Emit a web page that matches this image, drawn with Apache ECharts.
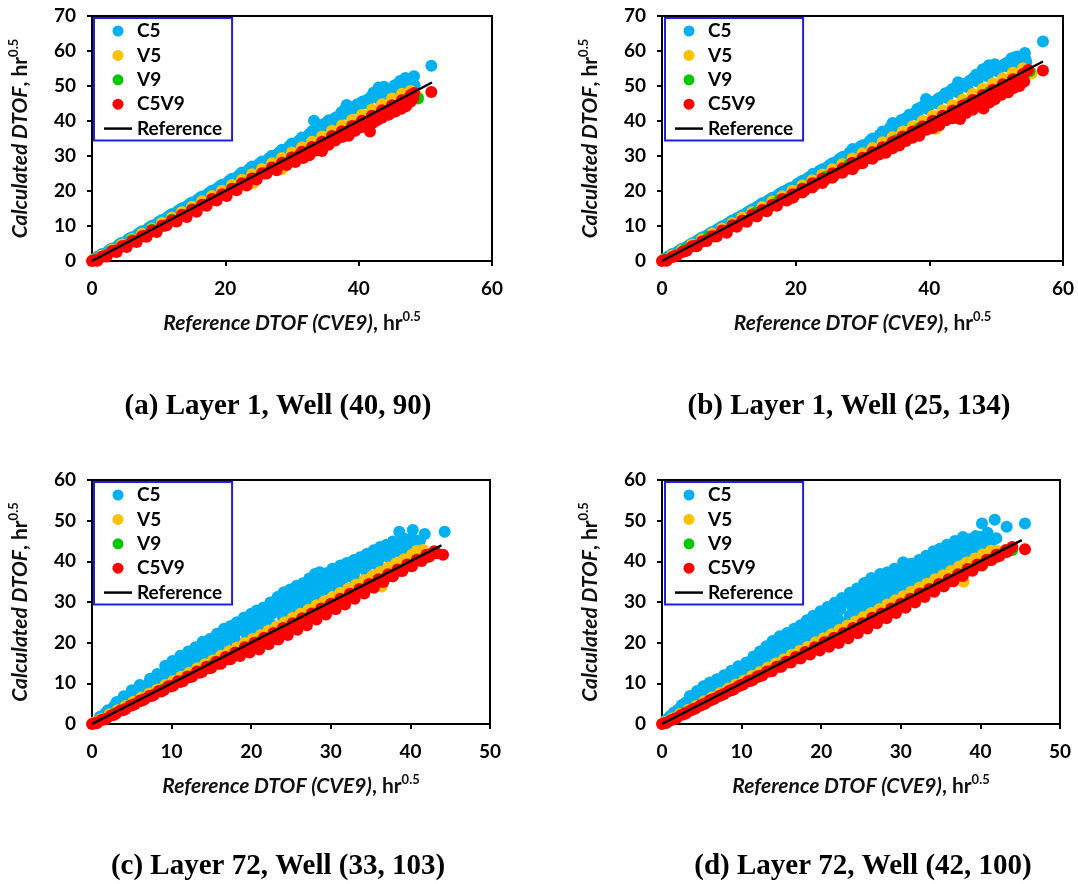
<!DOCTYPE html>
<html><head><meta charset="utf-8">
<script src="https://cdn.jsdelivr.net/npm/echarts@6/dist/echarts.min.js"></script>
<style>html,body{margin:0;padding:0;background:#fff}#c{width:1078px;height:884px}</style>
</head><body><div id="c"></div>
<script>
// ---------- DATA ----------
const seriesNames = ['C5', 'V5', 'V9', 'C5V9', 'Reference'];
const captions = ['(a) Layer 1, Well (40, 90)', '(b) Layer 1, Well (25, 134)', '(c) Layer 72, Well (33, 103)', '(d) Layer 72, Well (42, 100)'];
const xMax = [60, 60, 50, 50];
const xStep = [20, 20, 10, 10];
const yMax = [70, 70, 60, 60];
const yStep = [10, 10, 10, 10];

// (a) Layer 1, Well (40, 90)
const a_Ref = [[0,0],[51,51]];
const a_C5 = [[0.3,0.6],[1.5,2],[3,3.6],[4.5,5.2],[6,6.8],[7.5,8.5],[9,10.1],[10.5,11.7],[12,13.4],[13.5,15.1],[15,16.7],[16.5,18.4],[18,20.1],[19.5,21.8],[21,23.5],[22.5,25.3],[24,27],[25.5,28.4],[27,30.1],[28.5,31.8],[30,33.6],[31.5,35.3],[33,37.1],[33.3,40.1],[34.5,38.9],[35.5,40.2],[36.5,40.9],[37.4,42.5],[38.2,44.6],[39,43.6],[39.8,44.8],[40.6,45.6],[41.4,46.2],[42.2,48.1],[43,49.6],[43.8,49.8],[44.6,48.9],[45.4,50.2],[46.2,51.4],[47,52.3],[47.7,51.2],[48.3,52.8],[48.4,50.2],[50.9,55.8],
 [2.3,2.6],[3.8,4.2],[5.3,5.9],[6.8,7.5],[8.3,9.1],[9.8,10.8],[11.3,12.4],[12.8,14.1],[14.3,15.7],[15.8,17.4],[17.3,19],[18.8,20.7],[20.3,22.3],[21.8,24],[23.3,25.6],[24.8,27.2],[26.3,28.8],[27.8,30.5],[29.3,32.1],[30.8,33.7],[32.3,35.4],[33.8,37],[35.3,38.6],[36.8,40.2],[38.3,41.9],[39.8,43.4],[41.3,45],[42.8,46.6],[44.3,47.7],[45.8,49.2],[47.3,50.4],[48.2,49.5],
 [0.9,1.3],[2.6,3.1],[4.1,4.8],[5.6,6.4],[7.1,8],[8.6,9.6],[10.1,11.3],[11.6,12.9],[13.1,14.6],[14.6,16.2],[16.1,17.9],[17.6,19.5],[19.1,21.2],[20.6,22.9],[22.1,24.6],[23.6,26.3],[25.1,27.8],[26.6,29.4],[28.1,31.1],[29.6,32.8],[31.1,34.5],[32.6,36.3],[34.1,38],[35.1,39.4],[36.1,40.3],[37.1,41.5],[37.9,43.2],[39.3,44.1],[40.2,44.6],[41,45.6],[41.9,46.9],[42.7,47.8],[43.5,48.5],[44.2,48.4],[45,49.3],[45.9,50.4],[46.6,51.4],[47.3,51.8],[48,51.6]];
const a_V5 = [[0.3,0.4],[1.5,1.6],[3,3.2],[4.5,4.7],[6,6.3],[7.5,7.8],[9,9.3],[10.5,10.9],[12,12.4],[13.5,14],[15,15.5],[16.5,17.1],[18,18.6],[19.5,20.1],[21,21.7],[22.5,23.2],[24,24.8],[24.2,22.3],[25.5,26.3],[27,27.9],[28.5,29.4],[28.5,26.2],[30,31],[31.5,32.5],[33,34.1],[34.5,35.6],[36,37.2],[37.5,38.7],[39,40.3],[40.5,41.8],[42,43.3],[43.5,44.8],[45,46.4],[46.5,47.8],[47.8,48.6],[48.9,46.9]];
const a_V9 = [[0.5,0.4],[3,2.9],[6,5.9],[9,8.9],[12,11.8],[15,14.8],[18,17.7],[21,20.7],[24,23.6],[27,26.6],[30,29.6],[33,32.5],[36,35.5],[39,38.4],[42,41.4],[45,44.3],[48,47.3],[48.9,46.4]];
const a_C5V9 = [[0,0],[1.5,1.2],[3,2.7],[4.5,4.2],[6,5.6],[7.5,7.1],[9,8.7],[10.5,10.1],[12,11.6],[13.5,13.2],[15,14.6],[16.5,16.1],[18,17.7],[19.5,19.1],[21,20.6],[22.5,22.2],[24,23.6],[25.5,25.1],[27,26.7],[28.5,28.1],[30,29.6],[31.5,31.2],[33,32.6],[34.5,34.1],[36,35.7],[37.5,37.1],[39,38.6],[40.5,40.1],[42,41.5],[43.5,43.1],[45,44.5],[46.5,46],[47.8,47.4],[48.3,48],
 [0.8,0.1],[2.2,1.3],[3.7,2.6],[5.2,4],[6.7,5.4],[8.2,6.9],[9.7,8.3],[11.2,10.2],[12.7,11.3],[14.2,12.6],[15.7,14.1],[17.2,15.8],[18.7,17.3],[20.2,18.6],[21.7,20.2],[23.2,21.6],[24.7,23.3],[26.2,25],[27.7,25.9],[29.2,27.4],[30.5,28.3],[31.7,29.4],[32.6,30.2],[33.6,31.6],[34.5,31.4],[35.5,33.2],[36.5,34.4],[37.5,35.4],[38.5,35.8],[39.5,37.2],[40.5,38.3],[41.7,37],[42.2,39.6],[43.5,40.9],[44.5,41.8],[45.5,42.7],[46.4,43.5],[47.1,44.2],[47.8,45.6],[48.2,46.6],[50.9,48.3],
 [30,28.8],[32,30.5],[34,32.6],[36,34.7],[38,36.6],[40,38.6],[41.5,39.2],[43,41.5],[45,43.4],[47,45.4],
 [0.4,0.2],[1.9,1.4],[3.4,2.9],[4.9,4.3],[6.4,5.7],[7.9,7.2],[9.4,8.6],[10.9,10.1],[12.4,11.5],[13.9,13],[15.4,14.5],[16.9,16],[18.4,17.4],[19.9,18.9],[21.4,20.5],[22.9,21.9],[24.4,23.5],[25.9,25],[27.4,26.3],[28.9,27.7],[29.9,28.9],[31.1,30.2],[32.1,30.9],[33.1,31.9],[34.1,32.8],[35.1,33.6],[36.1,34.9],[37.1,35.8],[38.1,36.8],[39.1,37.6],[40.1,38.9],[41.1,38.6],[41.9,39.4],[42.8,40.3],[44,41.9],[45,42.6],[46,43.9],[46.9,44.6],[47.5,45.2]];

// (b) Layer 1, Well (25, 134)
const b_Ref = [[0,0],[57,57]];
const b_C5 = [[0.3,0.6],[1.5,2],[3,3.5],[4.5,5.1],[6,6.7],[7.5,8.3],[9,9.9],[10.5,11.6],[12,13.1],[13.5,14.8],[15,16.5],[16.5,18.1],[18,19.7],[19.6,21.1],[21,22.9],[22.6,24.9],[24,26.2],[25.5,27.9],[27,29.7],[28.5,32],[30,33.1],[31.5,35],[33,37],[34.5,39.4],[35.8,40.3],[37,41.8],[38.2,43.4],[39.5,46.3],[40.4,45.4],[41.4,46.5],[42.4,47.9],[43.4,49.1],[44.3,51.1],[45.2,50.4],[46.1,51.6],[47,53.2],[48,54.8],[48.9,55.9],[49.8,56.2],[50.6,55.3],[51.4,56.4],[52.3,57.9],[53.1,58.4],[53.8,57.4],[54.3,59.4],[54.5,56.8],[57,62.7],
 [2.2,2.5],[3.7,4.1],[5.2,5.7],[6.7,7.3],[8.2,8.9],[9.7,10.5],[11.2,12.2],[12.7,13.8],[14.2,15.4],[15.7,17],[17.2,18.6],[18.7,20.3],[20.2,21.9],[21.7,23.5],[23.2,25.1],[24.7,26.8],[26.2,28.5],[27.7,30.1],[29.2,31.8],[30.7,33.4],[32.2,35.1],[33.7,36.8],[35.2,38.4],[36.7,40.1],[38.2,41.7],[39.7,43.4],[41.2,45],[42.7,46.6],[44.2,48.2],[45.7,49.7],[47.2,51.3],[48.7,52.8],[50.2,54.2],[51.7,55.6],[53.2,56.8],[54.4,57.6],
 [0.9,1.3],[2.6,3],[4.1,4.6],[5.6,6.2],[7.1,7.8],[8.6,9.4],[10.1,11],[11.6,12.6],[13.1,14.3],[14.6,15.9],[16.1,17.6],[17.6,19.2],[19.1,20.8],[20.6,22.4],[22.1,24.1],[23.6,25.8],[25.1,27.4],[26.6,29.2],[28.1,31],[29.6,32.6],[31.1,34.3],[32.6,36.1],[34.1,38.1],[35.2,39.3],[36.4,40.7],[37.6,42],[38.8,44],[40,44.6],[41,45.8],[42,47.1],[43,48.3],[43.9,49.6],[44.8,50.2],[45.7,50.9],[46.6,52.3],[47.6,53.5],[48.5,54.8],[49.4,55.4],[50.3,55.1],[51.1,55.9],[51.9,56.9],[52.7,57.5],[53.5,57.9],[54,58.6]];
const b_V5 = [[0.3,0.4],[1.5,1.6],[3,3.1],[4.5,4.7],[6,6.2],[7.5,7.8],[9,9.3],[10.5,10.8],[12,12.4],[13.5,13.9],[15,15.4],[16.5,17],[18,18.5],[19.5,20.1],[21,21.6],[22.5,23.1],[24,24.7],[25.5,26.2],[27,27.7],[28.5,29.3],[29,27.8],[30,30.8],[31.5,32.3],[33,33.9],[34.5,35.4],[34.6,32.4],[36,36.9],[37.5,38.5],[39,40],[40.5,41.5],[41,37.8],[42,43.1],[43.5,44.6],[45,46.1],[46.5,47.7],[48,49.2],[49.5,50.7],[51,52.2],[52.5,53.8],[54,55.1],[55.3,53.6]];
const b_V9 = [[0.5,0.4],[3.5,3.4],[7,6.9],[10.5,10.3],[14,13.8],[17.5,17.2],[21,20.7],[24.5,24.1],[28,27.6],[31.5,31],[35,34.5],[38.5,37.9],[42,41.4],[45.5,44.9],[49,48.3],[52.5,51.8],[55,54.2]];
const b_C5V9 = [[0,0],[1.5,1.1],[3,2.6],[4.5,4.2],[6,5.6],[7.5,7.1],[9,8.7],[10.5,10.1],[12,11.6],[13.5,13.2],[15,14.6],[16.5,16.1],[18,17.7],[19.5,19.1],[21,20.6],[22.5,22.2],[24,23.6],[25.5,25.1],[27,26.5],[28.5,28.1],[30,29.5],[31.5,31.1],[33,32.5],[34.5,34],[36,35.6],[37.5,37],[39,38.5],[40.5,40.1],[42,41.5],[43.5,43],[45,44.4],[46.5,46],[48,47.4],[49.5,48.9],[51,50.5],[52.5,51.9],[54,53.4],[54.8,54.6],
 [0.7,0.1],[2.2,1.5],[3.7,2.9],[5.2,4.2],[6.7,5.7],[8.2,7],[9.7,8.1],[11.2,9.8],[12.7,11.2],[14.2,12.7],[15.7,14.2],[17.2,15.8],[18.7,17.3],[19.6,18.1],[21,19.6],[22.5,21],[24,22.3],[25.5,23.8],[27,25.2],[28.5,26.2],[30,27.9],[31.5,29.2],[32.5,30.4],[33.5,30.9],[34.5,32.2],[35.5,33],[36.5,34.3],[37.5,35.2],[38.5,35.8],[39.6,37.5],[40.5,38],[41.5,38.8],[42.5,40.2],[43.5,40.8],[44.6,40.6],[45.5,42.3],[46.5,43.2],[47.3,44.8],[48.1,43.6],[49,45.3],[49.8,46.2],[50.8,47.5],[51.8,48.2],[52.6,49.4],[53.5,50],[54.2,51.3],[57,54.4],
 [30,28.7],[32,30.6],[34,32.6],[36,34.6],[38,36.3],[40,38.4],[42,40.6],[44,42.2],[46,44.3],[48,45.8],[50,48],[52,50.1],[54,52.2],
 [0.4,0.2],[1.9,1.4],[3.4,2.8],[4.9,4.3],[6.4,5.7],[7.9,7.1],[9.4,8.5],[10.9,10],[12.4,11.4],[13.9,12.9],[15.4,14.4],[16.9,15.9],[18.4,17.4],[19.9,18.9],[21.4,20.3],[22.9,21.8],[24.4,23.2],[25.9,24.7],[27.4,26.1],[28.9,27.3],[30.8,29.4],[32.2,30.8],[33.2,31.7],[34.2,32.9],[35.2,33.9],[36.2,34.9],[37.2,35.9],[38.2,36.9],[39.2,37.6],[40.2,38.6],[41.2,39.6],[42.2,40.9],[43.2,41.5],[44.2,41.9],[45.2,43.3],[46.2,44.4],[47,45.5],[47.8,45],[48.6,46.4],[49.4,47.1],[50.3,48.2],[51.3,49.1],[52.2,50.1],[53.1,51.1],[53.9,52.2]];

// (c) Layer 72, Well (33, 103)
const c_Ref = [[0,0],[43.9,43.9]];
const c_C5 = [[1,1.8],[2,3.4],[3.1,5.4],[4,6.8],[5,8.3],[6,9.6],[7.3,11.1],[8.2,12.3],[9.2,14.3],[10.1,15.5],[11.1,16.8],[12.1,17.8],[13,18.9],[13.9,20.2],[14.8,20.9],[15.7,22.2],[16.6,23.4],[17.4,24.1],[18.2,25],[19.1,26.2],[20,27.1],[20.7,27.9],[21.5,28.6],[22.4,29.9],[23.3,31.2],[24.1,32.4],[24.9,33.1],[25.7,34],[26.5,34.6],[27.3,35.8],[28,36.9],[28.6,37.3],[29.4,37.1],[30.2,38.2],[31.2,39],[32,39.6],[32.9,40.3],[33.7,41],[34.5,41.8],[35.4,42.7],[36.2,43.5],[37,44.1],[37.8,44.9],[38.6,47.3],[39.2,45.6],[40.3,47.7],[40.8,43.6],[41.2,45.1],[41.8,46.7],[44.3,47.3],
 [2.5,3.6],[3.7,5.2],[4.9,6.7],[6.1,8.1],[7.3,9.5],[8.5,10.9],[9.7,12.6],[10.9,14],[12.1,15.5],[13.3,16.9],[14.5,18.3],[15.7,19.6],[16.9,21.1],[18.1,22.6],[19.3,23.8],[20.5,25.2],[21.7,26.6],[22.9,28.1],[24.1,29.6],[25.3,30.8],[26.5,32.2],[27.7,33.5],[28.9,34.8],[30.1,35.9],[31.3,37],[32.5,38.1],[33.7,39.2],[34.9,40.4],[36.1,41.4],[37.3,42.5],[38.5,43.6],[39.7,44.4],
 [1.5,1.9],[3,3.6],[4.5,5.2],[6,6.8],[7.5,8.4],[9,10],[10.5,11.6],[12,13.2],[13.5,14.8],[15,16.5],[16.5,18.1],[18,19.7],[19.5,21.3],[21,22.9],[22.5,24.5],[24,26.1],[25.5,27.7],[27,29.3],[28.5,30.9],[30,32.5],[31.5,34.1],[33,35.6],[34.5,37.2],[36,38.8],[37.5,40.4],[39,41.9],[40.5,43.2],
 [1.7,2.7],[2.8,4.4],[3.9,5.9],[5,7.4],[6.1,8.9],[7.2,10.2],[8.3,11.7],[9.4,13.4],[10.5,14.8],[11.6,16.2],[12.7,17.5],[13.8,18.9],[14.9,20],[16,21.1],[17.1,22.6],[18.2,24],[19.3,25.2],[20.4,26.4],[21.5,27.7],[22.6,29.1],[23.7,30.6],[24.8,31.9],[25.9,33.1],[27,34.4],[28.1,35.6],[29.2,36.2],[30.3,37.2],[31.4,38.2],[32.5,39.1],[33.6,40.1],[34.7,41.2],[35.8,42.2],[36.9,43.3],[38,44.2],[39.1,44.9],[40.2,45.6],
 [2.2,2.8],[3.4,4.4],[4.6,5.9],[5.8,7.4],[7,8.9],[8.2,10.4],[9.4,11.8],[10.6,13.2],[11.8,14.7],[13,16.1],[14.2,17.4],[15.4,18.9],[16.6,20.3],[17.8,21.7],[19,23],[20.2,24.3],[21.4,25.6],[22.6,27.1],[23.8,28.5],[25,29.8],[26.2,31.2],[27.4,32.5],[28.6,33.7],[29.8,35],[31,36.2],[32.2,37.4],[33.4,38.6],[34.6,39.7],[35.8,40.9],[37,42],[38.2,43],[39.4,44],[40.6,44.5],
 [6,7.3],[8,9.5],[10,11.7],[12,13.9],[14,16.1],[16,18.3],[18,20.5],[20,22.7],[22,24.9],[24,27.2],[25,28.4],[26,29.6],[27,30.8],[28,31.9],[29,33],[30,34.1],[31,35.2],[32,36.3],[33,37.3],[34,38.4],[35,39.5],[36,40.4],[37,41.4],[38,42.4],[39,43.3],[40,44],
 [25.5,29.4],[26.5,30.4],[27.5,31.5],[28.5,32.6],[29.5,33.4],[30.5,34.6],[31.5,35.9],[32.5,36.7]];
const c_V5 = [[0.3,0.4],[1.2,1.3],[2.2,2.4],[3.2,3.4],[4.2,4.4],[5.2,5.5],[6.2,6.5],[7.2,7.5],[8.2,8.5],[9.2,9.6],[10.2,10.6],[11.2,11.6],[12.2,12.6],[13.2,13.7],[14.2,14.7],[15.2,15.7],[16.2,16.8],[17.2,17.8],[18.2,18.8],[19.2,19.9],[20.2,20.9],[21.2,21.9],[22.2,23],[23.2,24],[24.2,25],[25.2,26.1],[26.2,27.1],[27.2,28.1],[28.2,29.2],[29.2,30.2],[30.2,31.2],[31.2,32.3],[32.2,33.3],[33.2,34.3],[34.2,35.4],[35.2,36.4],[36.2,37.4],[36.4,33.8],[37.2,38.5],[38.2,39.5],[39.2,40.5],[40.2,41.6],[40.8,42.6],[41.6,42.8]];
const c_V9 = [[0.5,0.3],[3,2.7],[6,5.6],[9,8.5],[12,11.4],[15,14.3],[18,17.2],[21,20.1],[24,23],[27,26],[30,28.9],[33,31.8],[36,34.8],[39,37.8],[42,40.9]];
const c_C5V9 = [[0,0],[1.2,1],[2.4,2.1],[3.6,3.3],[4.8,4.5],[6,5.7],[7.2,6.9],[8.4,8.1],[9.6,9.3],[10.8,10.5],[12,11.7],[13.2,12.9],[14.4,14.1],[15.6,15.3],[16.8,16.5],[18,17.6],[19.2,18.9],[20.4,20],[21.6,21.2],[22.8,22.4],[24,23.6],[25.2,24.8],[26.4,26],[27.6,27.2],[28.8,28.4],[30,29.6],[31.2,30.8],[32.4,32],[33.6,33.2],[34.8,34.4],[36,35.6],[37.2,36.8],[38.4,38],[39.6,39.2],[40.8,40.4],[42,41.6],[43,42.5],
 [0.6,0.2],[1.8,1.3],[3,2.5],[4.2,3.7],[5.4,4.9],[6.6,6.1],[7.8,7.2],[9,8.3],[10.2,9.4],[11.4,10.5],[12.6,11.7],[13.8,12.8],[15,13.8],[16.2,14.8],[17.4,15.9],[18.6,16.7],[19.8,17.6],[21,18.3],[22.2,19.6],[23.4,20.8],[24.6,21.9],[25.8,23.2],[27,24.3],[28.2,25.7],[29.4,26.9],[30.6,28.2],[31.8,29.4],[33,30.8],[34.2,32.1],[35.4,33.5],[36.6,34.9],[37.8,36.3],[39,37.6],[40.2,38.8],[41.4,40.1],[42.4,41.2],[44.1,41.6],
 [0.3,0.1],[1.5,1.1],[2.7,2.2],[3.9,3.4],[5.1,4.6],[6.3,5.8],[7.5,6.9],[8.7,8],[9.9,9.2],[11.1,10.3],[12.3,11.5],[13.5,12.6],[14.7,13.7],[15.9,14.8],[17.1,15.9],[18.3,17],[19.5,18],[20.7,19],[21.9,20.2],[23.1,21.4],[24.3,22.6],[25.5,23.8],[26.7,25],[27.9,26.3],[29.1,27.5],[30.3,28.8],[31.5,30],[32.7,31.3],[33.9,32.6],[35.1,33.9],[36.3,35.2],[37.5,36.4],[38.7,37.7],[39.9,38.9],[41.1,40.2],[42.2,41.3],[43.3,42]];

// (d) Layer 72, Well (42, 100)
const d_Ref = [[0,0],[45.2,45.2]];
const d_C5 = [[0.5,1],[1.5,2.8],[2.5,4.7],[3.5,6.9],[4.4,8.1],[5.2,9.3],[6,10.2],[6.9,11],[7.8,12],[8.7,13.1],[9.6,14.2],[10.6,15.1],[11.5,16.6],[12.3,17.8],[13.1,19.1],[13.9,20.4],[14.8,21.6],[15.7,22.4],[16.6,23.4],[17.4,24.3],[18.2,25.5],[19,26.6],[19.9,27.7],[20.8,28.8],[21.7,29.8],[22.6,31],[23.6,32.3],[24.5,33.3],[25.4,34.7],[26.3,35.9],[27.4,36.9],[28.3,37.3],[29.2,38.2],[30.3,39.8],[31.3,39.4],[32.3,40.3],[33.2,41.4],[34.1,42.5],[34.9,43.1],[35.8,44.1],[36.8,45],[37.8,46],[38.6,45.4],[39.4,46.2],[40.2,49.3],[41.8,50.2],[43.3,48.5],[42,45.7],[40.9,47],[45.6,49.3],
 [1.5,1.6],[2.6,3.2],[3.7,4.8],[4.8,6.2],[5.9,7.6],[7,8.8],[8.1,10],[9.2,11.4],[10.3,12.6],[11.4,13.9],[12.5,15.3],[13.6,16.8],[14.7,18.6],[15.8,19.8],[16.9,20.9],[18,22.4],[19.1,24],[20.2,25.3],[21.3,26.7],[22.4,28.2],[23.5,29.7],[24.6,30.8],[25.7,32.1],[26.8,33.6],[27.9,34.7],[29,35.6],[30.1,36.7],[31.2,37.3],[32.3,38],[33.4,39],[34.5,40.2],[35.6,41.3],[36.7,42.4],[37.8,43.4],[38.9,44.2],[40,44.7],[41.2,45.2],
 [2,2.4],[3.2,3.7],[4.4,5.1],[5.6,6.4],[6.8,7.7],[8,9.1],[9.2,10.4],[10.4,11.8],[11.6,13.1],[12.8,14.5],[14,15.8],[15.2,17.2],[16.4,18.5],[17.6,19.8],[18.8,21.2],[20,22.6],[21.2,23.9],[22.4,25.2],[23.6,26.7],[24.8,28],[26,29.3],[27.2,30.7],[28.4,32],[29.6,33.3],[30.8,34.5],[32,35.8],[33.2,37],[34.4,38.3],[35.6,39.5],[36.8,40.7],[38,41.8],[39.2,42.9],[40.4,43.6],
 [1,1.1],[2.5,2.7],[4,4.3],[5.5,5.9],[7,7.5],[8.5,9],[10,10.6],[11.5,12.2],[13,13.8],[14.5,15.3],[16,16.9],[17.5,18.5],[19,20.1],[20.5,21.6],[22,23.2],[23.5,24.8],[25,26.3],[26.5,27.9],[28,29.5],[29.5,31],[31,32.6],[32.5,34.2],[34,35.7],[35.5,37.3],[37,38.8],[38.5,40.4],[40,41.9],[41.5,43.2],
 [1,1.9],[2,3.5],[3,5.3],[4,6.8],[5,8.1],[6,9.4],[7,10.5],[8,11.6],[9,12.8],[10,14],[11,15.2],[12,16.6],[13,18],[14,19.4],[15,20.6],[16,21.6],[17,22.6],[18,23.8],[19,25.3],[20,26.5],[21,27.7],[22,29],[23,30.4],[24,31.6],[25,32.8],[26,34.2],[27,35.4],[28,36.2],[29,36.9],[30,38],[31,38.6],[32,39.1],[33,40.1],[34,41.3],[35,42.2],[36,43.1],[37,44],[38,44.7],[39,45.2],[40,46],
 [1.5,1.8],[2.8,3.2],[4.1,4.7],[5.4,6.2],[6.7,7.6],[8,9],[9.3,10.5],[10.6,12],[11.9,13.4],[13.2,14.9],[14.5,16.3],[15.8,17.8],[17.1,19.2],[18.4,20.7],[19.7,22.1],[21,23.5],[22.3,25],[23.6,26.4],[24.9,27.9],[26.2,29.3],[27.5,30.8],[28.8,32.2],[30.1,33.6],[31.4,35.1],[32.7,36.5],[34,37.9],[35.3,39.3],[36.6,40.6],[37.9,41.6],[39.2,42.5],[40.5,43.2],
 [6,7.4],[8,9.7],[10,12],[12,14.3],[14,16.7],[16,19],[18,21.4],[20,23.8],[22,26.1],[24,28.4],[25,29.6],[26,30.9],[27,32],[28,33.1],[29,34.3],[30,35.2],[31,36.1],[32,37],[33,38],[34,39.1],[35,40.1],[36,41],[37,41.9],[38,42.8],[39,43.5],[40,44.2],
 [28.5,33.7],[29.5,34.8],[30.5,35.6],[31.5,36.5],[32.5,37.6],[33.5,38.6]];
const d_V5 = [[0.3,0.4],[1.3,1.4],[2.3,2.5],[3.3,3.5],[4.3,4.5],[5.3,5.6],[6.3,6.6],[7.3,7.6],[8.3,8.7],[9.3,9.7],[10.3,10.7],[11.3,11.8],[12.3,12.8],[13.3,13.9],[14.3,14.9],[15.3,15.9],[16.3,17],[17.3,18],[18.3,19],[19.3,20.1],[20.3,21.1],[21.3,22.1],[22.3,23.2],[23.3,24.2],[24.3,25.2],[25.3,26.3],[26.3,27.3],[27.3,28.3],[28.3,29.4],[29.3,30.4],[30.3,31.4],[31.3,32.5],[32.3,33.5],[33.3,34.5],[34.3,35.6],[35.3,36.6],[36.3,37.6],[37.3,38.7],[37.9,35],[38.3,39.7],[39.3,40.7],[40.3,41.7],[41.3,42.6],[42,42.6]];
const d_V9 = [[0.5,0.3],[3,2.8],[6,5.7],[9,8.6],[12,11.5],[15,14.4],[18,17.2],[21,20.2],[24,23.1],[27,26],[30,29],[33,32],[36,35],[39,38],[42,41],[44,42.8]];
const d_C5V9 = [[0,0],[1.2,1],[2.4,2.2],[3.6,3.3],[4.8,4.5],[6,5.8],[7.2,6.9],[8.4,8.1],[9.6,9.3],[10.8,10.5],[12,11.7],[13.2,12.9],[14.4,14.1],[15.6,15.3],[16.8,16.5],[18,17.7],[19.2,18.9],[20.4,20.1],[21.6,21.2],[22.8,22.4],[24,23.6],[25.2,24.8],[26.4,26.1],[27.6,27.2],[28.8,28.4],[30,29.6],[31.2,30.8],[32.4,32.1],[33.6,33.2],[34.8,34.4],[36,35.6],[37.2,36.8],[38.4,38.1],[39.6,39.2],[40.8,40.4],[42,41.6],[43.2,42.8],[44,43.5],
 [0.6,0.3],[1.8,1.4],[3,2.6],[4.2,3.8],[5.4,5],[6.6,6.2],[7.8,7.4],[9,8.5],[10.2,9.7],[11.4,10.8],[12.6,11.9],[13.8,13],[15,14.1],[16.2,15.1],[17.4,16.1],[18.6,17.1],[19.8,18.1],[21,19],[22.2,19.9],[23.4,21.1],[24.6,22.3],[25.8,23.5],[27,24.8],[28.2,26],[29.4,27.3],[30.6,28.6],[31.8,29.9],[33,31.2],[34.2,32.5],[35.4,33.8],[36.6,35.1],[37.8,36.4],[39,37.7],[40.2,39],[41.4,40.3],[42.4,41.3],[43.3,42.3],[45.6,43],
 [0.3,0.2],[1.5,1.2],[2.7,2.4],[3.9,3.6],[5.1,4.8],[6.3,6],[7.5,7.1],[8.7,8.3],[9.9,9.5],[11.1,10.6],[12.3,11.8],[13.5,12.9],[14.7,14.1],[15.9,15.2],[17.1,16.3],[18.3,17.4],[19.5,18.5],[20.7,19.5],[21.9,20.6],[23.1,21.8],[24.3,22.9],[25.5,24.1],[26.7,25.4],[27.9,26.6],[29.1,27.8],[30.3,29.1],[31.5,30.3],[32.7,31.6],[33.9,32.8],[35.1,34.1],[36.3,35.3],[37.5,36.6],[38.7,37.9],[39.9,39.1],[41.1,40.3],[42.3,41.5],[43.5,42.6]];

// ---------- BUILD ----------
const panels = [
  {C5: a_C5, V5: a_V5, V9: a_V9, C5V9: a_C5V9, Reference: a_Ref},
  {C5: b_C5, V5: b_V5, V9: b_V9, C5V9: b_C5V9, Reference: b_Ref},
  {C5: c_C5, V5: c_V5, V9: c_V9, C5V9: c_C5V9, Reference: c_Ref},
  {C5: d_C5, V5: d_V5, V9: d_V9, C5V9: d_C5V9, Reference: d_Ref}
];
const colors = {C5: '#00B0F0', V5: '#FFC000', V9: '#00C800', C5V9: '#FF0000', Reference: '#000000'};
const gridPos = [
  {left: 92, top: 16, width: 400, height: 245},
  {left: 662, top: 16, width: 401, height: 245},
  {left: 92, top: 480, width: 398, height: 244},
  {left: 662, top: 480, width: 398, height: 244}
];
const legendPos = [{left: 94, top: 18}, {left: 665, top: 18}, {left: 94, top: 482}, {left: 665, top: 482}];
const captionPos = [[278, 407], [849, 407], [278, 867], [863, 867]];

const FONT = 'Lato';
const labelStyle = {fontFamily: FONT, fontWeight: 'bold', fontSize: 19, color: '#000'};
const rich = {
  i: {fontFamily: FONT, fontStyle: 'italic', fontWeight: 'bold', fontSize: 21, color: '#111', lineHeight: 26},
  n: {fontFamily: FONT, fontWeight: 'bold', fontSize: 21, color: '#111', lineHeight: 26},
  s: {fontFamily: FONT, fontWeight: 'bold', fontSize: 13, color: '#111', lineHeight: 15, verticalAlign: 'top'}
};

const grid = [], xAxis = [], yAxis = [], series = [], legend = [], graphic = [];
panels.forEach((p, k) => {
  grid.push(Object.assign({show: true, borderColor: '#000', borderWidth: 2, backgroundColor: 'transparent'}, gridPos[k]));
  xAxis.push({
    type: 'value', gridIndex: k, min: 0, max: xMax[k], interval: xStep[k],
    axisLine: {show: true, lineStyle: {color: '#000', width: 2}},
    axisTick: {show: true, inside: false, length: 5, lineStyle: {color: '#000', width: 2}},
    axisLabel: Object.assign({margin: 18}, labelStyle),
    splitLine: {show: false},
    name: '{i|Reference DTOF (CVE9)}{n|, hr}{s|0.5}', nameLocation: 'middle', nameGap: 49,
    nameTextStyle: {rich: rich}
  });
  yAxis.push({
    type: 'value', gridIndex: k, min: 0, max: yMax[k], interval: yStep[k],
    axisLine: {show: true, lineStyle: {color: '#000', width: 2}},
    axisTick: {show: true, inside: false, length: 5, lineStyle: {color: '#000', width: 2}},
    axisLabel: Object.assign({margin: 16}, labelStyle),
    splitLine: {show: false},
    name: '{i|Calculated DTOF}{n|, hr}{s|0.5}', nameLocation: 'middle', nameGap: 59,
    nameTextStyle: {rich: rich}
  });
  seriesNames.forEach(nm => {
    if (nm === 'Reference') {
      series.push({name: nm, type: 'line', xAxisIndex: k, yAxisIndex: k, data: p[nm], symbol: 'none',
        lineStyle: {color: '#000', width: 2.5}, itemStyle: {color: '#000'}, z: 5});
    } else {
      series.push({name: nm, type: 'scatter', xAxisIndex: k, yAxisIndex: k, data: p[nm], symbol: 'circle',
        symbolSize: 12, itemStyle: {color: colors[nm], opacity: 1}, clip: false});
    }
  });
  legend.push(Object.assign({
    orient: 'vertical', itemWidth: 28, itemHeight: 11, itemGap: 4.4,
    padding: [3, 10, 2, 10], borderColor: '#1f1fe6', borderWidth: 2, backgroundColor: '#fff',
    textStyle: {fontFamily: FONT, fontWeight: 'bold', fontSize: 19, color: '#000', lineHeight: 20},
    data: [
      {name: 'C5', icon: 'circle'}, {name: 'V5', icon: 'circle'}, {name: 'V9', icon: 'circle'},
      {name: 'C5V9', icon: 'circle'}, {name: 'Reference', icon: 'path://M0,0L28,0L28,2.5L0,2.5Z'}
    ]
  }, legendPos[k]));
  graphic.push({type: 'text', x: captionPos[k][0], y: captionPos[k][1],
    style: {text: captions[k], font: 'bold 29px "Liberation Serif", "Times New Roman", serif', fill: '#000',
      textAlign: 'center', textVerticalAlign: 'middle'}});
});

const chart = echarts.init(document.getElementById('c'), null, {renderer: 'canvas'});
chart.setOption({animation: false, backgroundColor: '#fff', grid, xAxis, yAxis, series, legend, graphic});
</script>
</body></html>
